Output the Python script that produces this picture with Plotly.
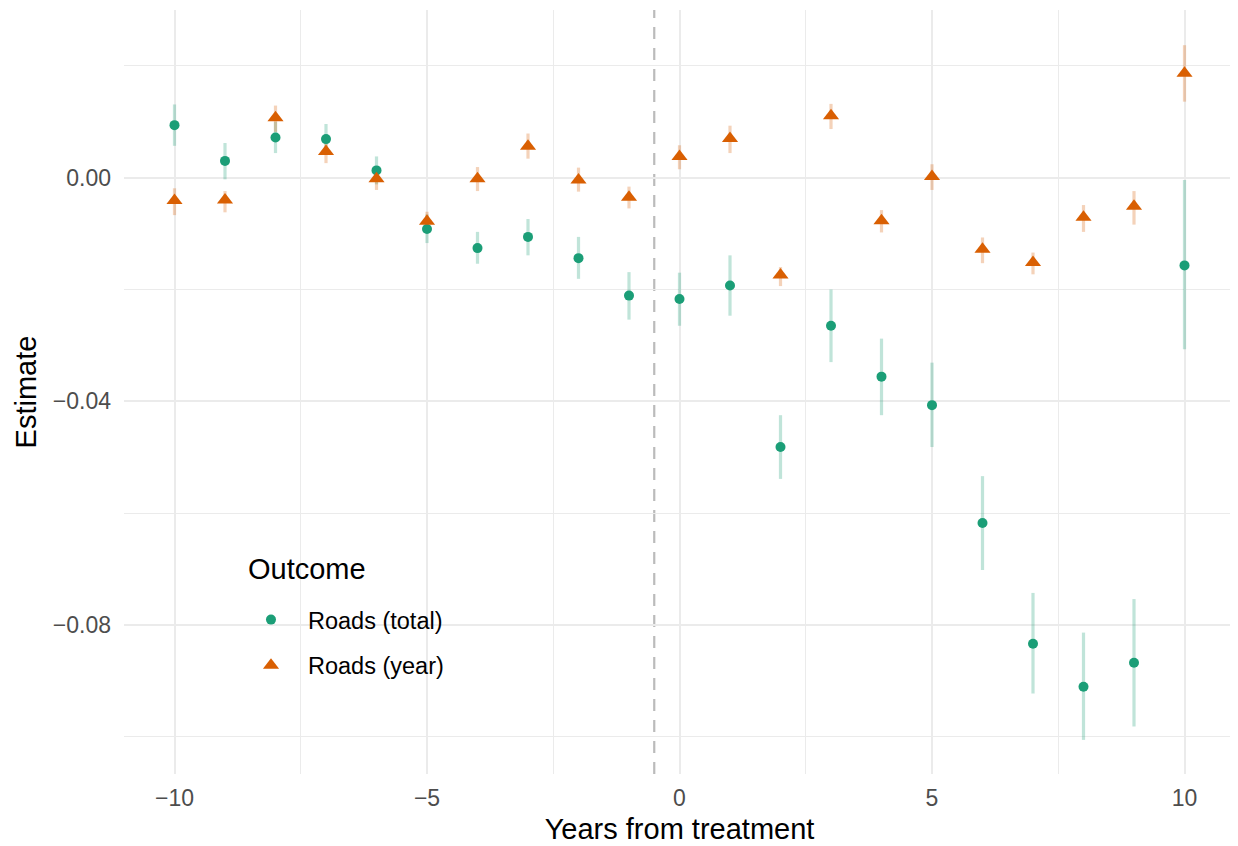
import plotly.graph_objects as go

# ---- data ----
years = list(range(-10, 11))

total_est = [0.0094, 0.0030, 0.0072, 0.0069, 0.0013, -0.0092, -0.0126, -0.0106, -0.0144, -0.0211,
             -0.0217, -0.0193, -0.0482, -0.0265, -0.0356, -0.0407, -0.0618, -0.0834, -0.0911, -0.0868, -0.0157]
total_lo = [0.0057, -0.0003, 0.0044, 0.0042, -0.0012, -0.0117, -0.0154, -0.0139, -0.0181, -0.0254,
            -0.0265, -0.0247, -0.0539, -0.0330, -0.0425, -0.0482, -0.0702, -0.0923, -0.1006, -0.0982, -0.0307]
total_hi = [0.0131, 0.0062, 0.0100, 0.0096, 0.0038, -0.0066, -0.0097, -0.0074, -0.0106, -0.0169,
            -0.0170, -0.0139, -0.0425, -0.0200, -0.0288, -0.0331, -0.0534, -0.0743, -0.0814, -0.0754, -0.0004]

year_est = [-0.0041, -0.0040, 0.0107, 0.0047, -0.0002, -0.0078, -0.0002, 0.0056, -0.0004, -0.0035,
            0.0038, 0.0070, -0.0174, 0.0111, -0.0077, 0.0002, -0.0128, -0.0152, -0.0071, -0.0051, 0.0187]
year_lo = [-0.0067, -0.0062, 0.0082, 0.0026, -0.0022, -0.0095, -0.0024, 0.0034, -0.0025, -0.0055,
           0.0015, 0.0044, -0.0194, 0.0087, -0.0098, -0.0022, -0.0153, -0.0173, -0.0097, -0.0084, 0.0136]
year_hi = [-0.0019, -0.0024, 0.0129, 0.0072, 0.0020, -0.0061, 0.0019, 0.0079, 0.0018, -0.0016,
           0.0058, 0.0093, -0.0160, 0.0132, -0.0058, 0.0024, -0.0107, -0.0134, -0.0049, -0.0024, 0.0237]

series_names = ["Roads (total)", "Roads (year)"]
legend_title = "Outcome"
treatment_cut = -0.5

x_ticks = [-10, -5, 0, 5, 10]
y_ticks = [0.0, -0.04, -0.08]

# ---- styling ----
GREEN = "#1B9E77"
ORANGE = "#D95F02"
FONT = "Liberation Sans, Arial, Helvetica, sans-serif"

fig = go.Figure()

series = [
    (series_names[0], total_est, total_lo, total_hi, GREEN, "rgba(27,158,119,0.28)", "circle", 10),
    (series_names[1], year_est, year_lo, year_hi, ORANGE, "rgba(217,95,2,0.28)", "triangle-up", 14),
]

# confidence interval lines first (under all points)
for name, est, lo, hi, col, ecol, sym, sz in series:
    fig.add_trace(go.Scatter(
        x=years, y=est, mode="markers",
        marker=dict(size=1, opacity=0),
        error_y=dict(type="data", symmetric=False,
                     array=[h - e for h, e in zip(hi, est)],
                     arrayminus=[e - l for e, l in zip(est, lo)],
                     color=ecol, thickness=3.2, width=0),
        showlegend=False, hoverinfo="skip",
    ))

for i, (name, est, lo, hi, col, ecol, sym, sz) in enumerate(series):
    fig.add_trace(go.Scatter(
        x=years, y=est, mode="markers", name=name,
        marker=dict(color=col, symbol=sym, size=sz, line=dict(width=0)),
        legendgroup=f"g{i}",
    ))

fig.add_vline(x=treatment_cut, line=dict(color="#BBBBBB", width=2.2, dash="12px,9px"), layer="below")

fig.add_annotation(
    text=legend_title, xref="paper", yref="paper", x=0.1095, y=0.268,
    xanchor="left", yanchor="middle", showarrow=False,
    font=dict(size=29, color="black", family=FONT),
)

grid_major = "#EBEBEB"
fig.update_layout(
    width=1230, height=838,
    paper_bgcolor="white", plot_bgcolor="white",
    margin=dict(l=116, r=3, t=2, b=72),
    font=dict(family=FONT, color="black"),
    xaxis=dict(
        range=[-11, 11], tickmode="array", tickvals=x_ticks,
        ticktext=[("\u2212" + str(abs(v))) if v < 0 else str(v) for v in x_ticks],
        showgrid=True, gridcolor=grid_major, gridwidth=2,
        minor=dict(dtick=2.5, tick0=0, showgrid=True, gridcolor=grid_major, gridwidth=1),
        zeroline=False, showline=False, ticks="", ticklabelstandoff=8,
        tickfont=dict(size=23, color="#4D4D4D"),
        title=dict(text="Years from treatment", font=dict(size=29, color="black"), standoff=8),
    ),
    yaxis=dict(
        range=[-0.1067, 0.0300], tickmode="array", tickvals=y_ticks,
        ticktext=[("\u2212" if v < 0 else "") + f"{abs(v):.2f}" for v in y_ticks],
        showgrid=True, gridcolor=grid_major, gridwidth=2,
        minor=dict(dtick=0.02, tick0=0, showgrid=True, gridcolor=grid_major, gridwidth=1),
        zeroline=False, showline=False, ticks="", ticklabelstandoff=12,
        tickfont=dict(size=23, color="#4D4D4D"),
        title=dict(text="Estimate", font=dict(size=29, color="black"), standoff=7),
    ),
    legend=dict(
        font=dict(size=23.5, color="black"),
        x=0.099, xanchor="left", y=0.2306, yanchor="top",
        bgcolor="rgba(0,0,0,0)", tracegroupgap=12, itemwidth=64,
    ),
)

fig.write_html("out.html")
